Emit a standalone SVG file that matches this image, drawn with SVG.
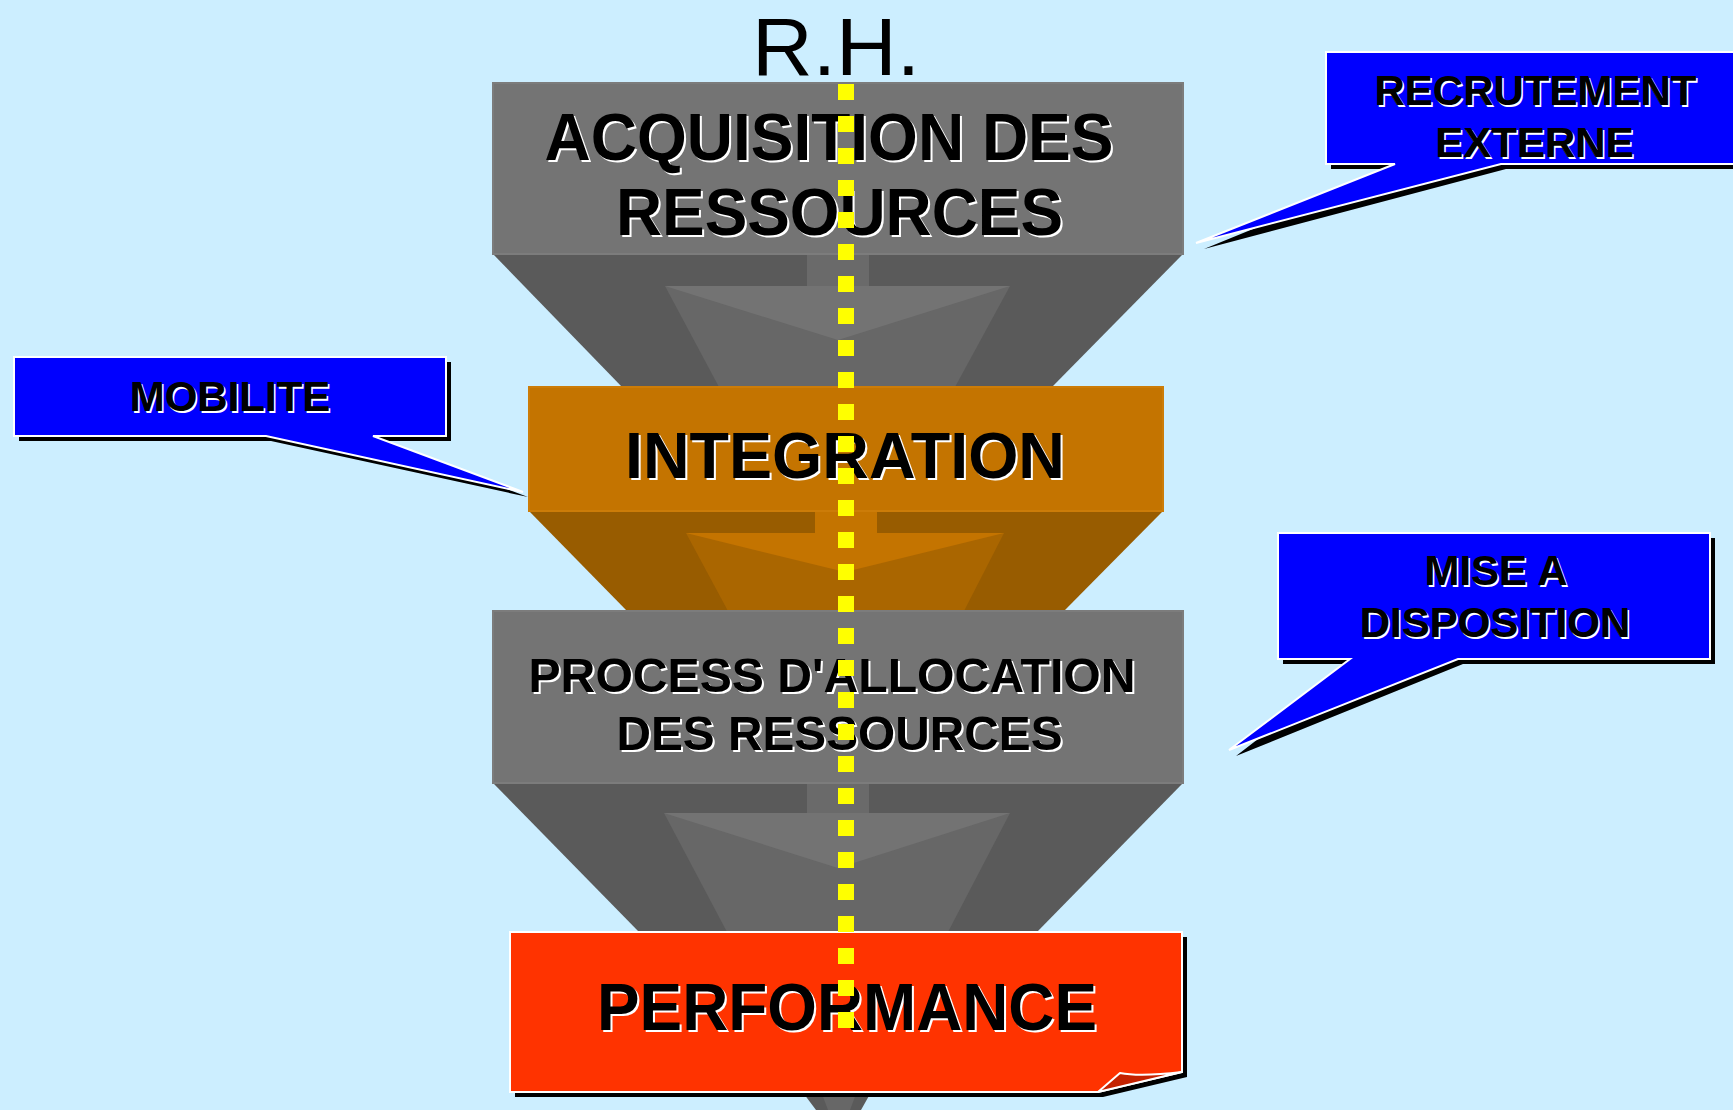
<svg xmlns="http://www.w3.org/2000/svg" width="1733" height="1110" viewBox="0 0 1733 1110">
  <style>
    .t { font-family: "Liberation Sans", Arial, sans-serif; font-weight: bold; text-anchor: middle; }
    .sh { fill: #ffffff; }
    .fg { fill: #000000; }
    .g-front { fill: #747474; stroke: #7c7c7c; stroke-width: 2; }
    .g-side { fill: #5a5a5a; }
    .g-stem { fill: #6a6a6a; }
    .g-head { fill: #737373; }
    .g-low { fill: #676767; }
    .o-front { fill: #c47400; stroke: #cc7c08; stroke-width: 2; }
    .o-side { fill: #985c00; }
    .o-stem { fill: #c47400; }
    .o-head { fill: #c47400; }
    .o-low { fill: #aa6600; }
    .bubble { fill: #0000ff; stroke: #ffffff; stroke-width: 2; stroke-linejoin: miter; }
    .bubble-sh { fill: #000000; }
  </style>

  <rect x="0" y="0" width="1733" height="1110" fill="#cceeff"/>

  <!-- title -->
  <g id="title-rh">
    <text x="836" y="74.5" font-family="Liberation Sans, Arial, sans-serif" font-size="82" text-anchor="middle" textLength="168" lengthAdjust="spacingAndGlyphs" fill="#000000">R.H.</text>
  </g>

  <!-- stage 1: acquisition -->
  <g id="acquisition">
    <polygon class="g-side" points="493,254 1183,254 1052,387 622,387"/>
    <rect class="g-stem" x="807" y="254" width="62" height="33"/>
    <polygon class="g-low" points="665,286 1010,286 955,387 719,387"/>
    <polygon class="g-head" points="665,286 1010,286 838,340"/>
    <rect class="g-front" x="493" y="83" width="690" height="171"/>
    <text class="t sh" x="831" y="162" font-size="66" textLength="569" lengthAdjust="spacingAndGlyphs">ACQUISITION DES</text>
    <text class="t fg" x="829" y="160" font-size="66" textLength="569" lengthAdjust="spacingAndGlyphs">ACQUISITION DES</text>
    <text class="t sh" x="841.5" y="237" font-size="66" textLength="447" lengthAdjust="spacingAndGlyphs">RESSOURCES</text>
    <text class="t fg" x="839.5" y="235" font-size="66" textLength="447" lengthAdjust="spacingAndGlyphs">RESSOURCES</text>
  </g>

  <!-- stage 2: integration -->
  <g id="integration">
    <polygon class="o-side" points="529,511 1163,511 1064,611 627,611"/>
    <rect class="o-stem" x="815" y="511" width="62" height="23"/>
    <polygon class="o-low" points="686,533 1004,533 964,611 728,611"/>
    <polygon class="o-head" points="686,533 1004,533 845,572"/>
    <rect class="o-front" x="529" y="387" width="634" height="124"/>
    <text class="t sh" x="847" y="480" font-size="65" textLength="440" lengthAdjust="spacingAndGlyphs">INTEGRATION</text>
    <text class="t fg" x="845" y="478" font-size="65" textLength="440" lengthAdjust="spacingAndGlyphs">INTEGRATION</text>
  </g>

  <!-- stage 3: allocation -->
  <g id="allocation">
    <polygon class="g-side" points="493,783 1183,783 1037,932 639,932"/>
    <rect class="g-stem" x="807" y="783" width="62" height="31"/>
    <polygon class="g-low" points="664,813 1010,813 948,932 727,932"/>
    <polygon class="g-head" points="664,813 1010,813 838,868"/>
    <polygon class="g-side" points="804,1094 870,1094 861,1110 816,1110"/>
    <polygon class="g-low" points="822,1094 856,1094 850,1110 828,1110"/>
    <rect class="g-front" x="493" y="611" width="690" height="172"/>
    <text class="t sh" x="834" y="694" font-size="49" textLength="607" lengthAdjust="spacingAndGlyphs">PROCESS D'ALLOCATION</text>
    <text class="t fg" x="832" y="692" font-size="49" textLength="607" lengthAdjust="spacingAndGlyphs">PROCESS D'ALLOCATION</text>
    <text class="t sh" x="841.5" y="752" font-size="49" textLength="446" lengthAdjust="spacingAndGlyphs">DES RESSOURCES</text>
    <text class="t fg" x="839.5" y="750" font-size="49" textLength="446" lengthAdjust="spacingAndGlyphs">DES RESSOURCES</text>
  </g>

  <!-- stage 4: performance (sheet with curled corner) -->
  <g id="performance">
    <polygon fill="#000000" points="515,937 1187,937 1187,1077 1103,1097 515,1097"/>
    <polygon fill="#ff3300" stroke="#ffffff" stroke-width="2" points="510,932 1182,932 1182,1072 1098,1092 510,1092"/>
    <path d="M1098,1092 L1120,1073 Q1140,1077 1182,1072 Z" fill="#c42200" stroke="#ffffff" stroke-width="2" stroke-linejoin="round"/>
    <text class="t sh" x="849" y="1032" font-size="66" textLength="500" lengthAdjust="spacingAndGlyphs">PERFORMANCE</text>
    <text class="t fg" x="847" y="1030" font-size="66" textLength="500" lengthAdjust="spacingAndGlyphs">PERFORMANCE</text>
  </g>

  <!-- callouts -->
  <g id="callout-recrutement">
    <path class="bubble-sh" transform="translate(5,5)" d="M1326,52 H1745 V164 H1501 L1199,244 L1395,164 H1326 Z"/>
    <path class="bubble" d="M1326,52 H1745 V164 H1501 L1196,243 L1395,164 H1326 Z"/>
    <text class="t sh" x="1537" y="107" font-size="42">RECRUTEMENT</text>
    <text class="t fg" x="1535.5" y="105" font-size="42">RECRUTEMENT</text>
    <text class="t sh" x="1536" y="159" font-size="42">EXTERNE</text>
    <text class="t fg" x="1534.5" y="157" font-size="42">EXTERNE</text>
  </g>

  <g id="callout-mobilite">
    <path class="bubble-sh" transform="translate(5,5)" d="M14,357 H446 V436 H373 L523,492 L266,436 H14 Z"/>
    <path class="bubble" d="M14,357 H446 V436 H373 L523,492 L266,436 H14 Z"/>
    <text class="t sh" x="231.5" y="413" font-size="42">MOBILITE</text>
    <text class="t fg" x="230" y="411" font-size="42">MOBILITE</text>
  </g>

  <g id="callout-mise-a-disposition">
    <path class="bubble-sh" transform="translate(5,5)" d="M1278,533 H1710 V659 H1458 L1231,751 L1350,659 H1278 Z"/>
    <path class="bubble" d="M1278,533 H1710 V659 H1458 L1229,750 L1350,659 H1278 Z"/>
    <text class="t sh" x="1497.5" y="587" font-size="42">MISE A</text>
    <text class="t fg" x="1496" y="585" font-size="42">MISE A</text>
    <text class="t sh" x="1496.5" y="639" font-size="42">DISPOSITION</text>
    <text class="t fg" x="1495" y="637" font-size="42">DISPOSITION</text>
  </g>

  <!-- connectors: dotted HR axis running through every stage -->
  <g id="connectors">
    <line x1="846" y1="84" x2="846" y2="1028" stroke="#ffff00" stroke-width="16" stroke-dasharray="16 16"/>
  </g>
</svg>
